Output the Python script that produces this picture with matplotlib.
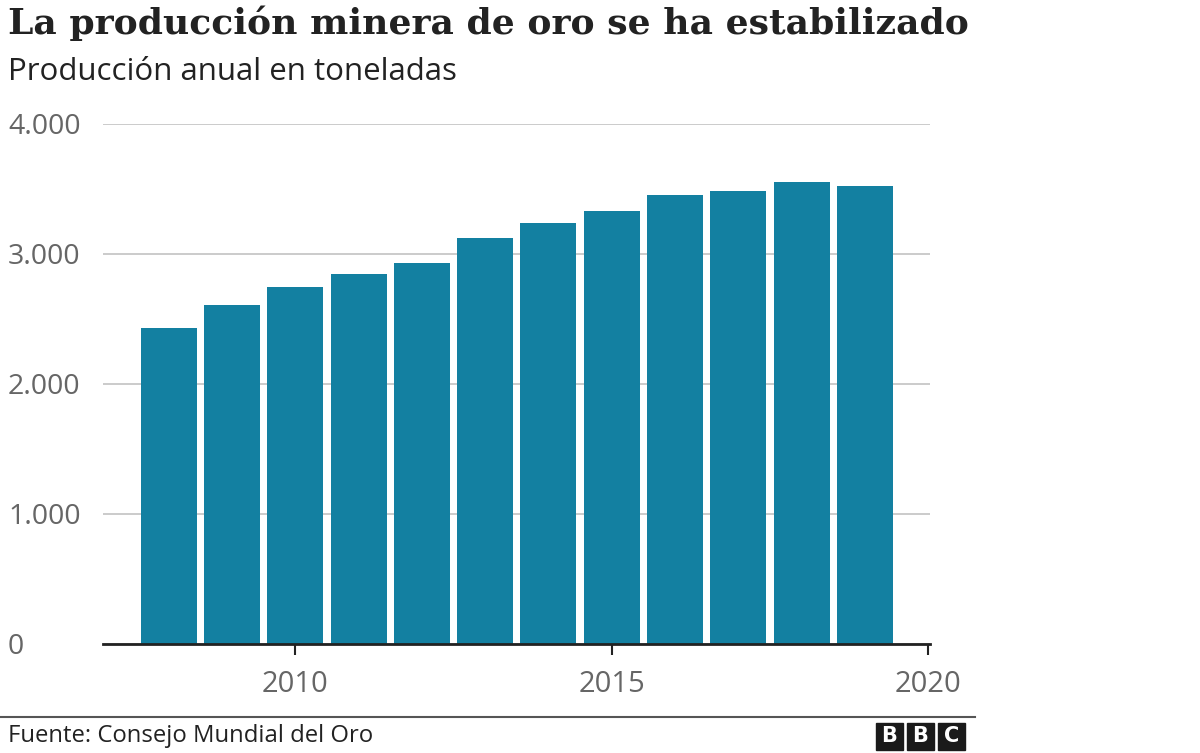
import matplotlib
matplotlib.use("Agg")
import matplotlib.pyplot as plt
from matplotlib.patches import Rectangle

years = [2008, 2009, 2010, 2011, 2012, 2013, 2014, 2015, 2016, 2017, 2018, 2019]
production = [2431, 2605, 2746, 2849, 2933, 3121, 3241, 3333, 3452, 3487, 3556, 3521]
y_ticks = [0, 1000, 2000, 3000, 4000]
y_labels = ["0", "1.000", "2.000", "3.000", "4.000"]
x_ticks = [2010, 2015, 2020]
x_labels = ["2010", "2015", "2020"]

title = "La producción minera de oro se ha estabilizado"
subtitle = "Producción anual en toneladas"
source = "Fuente: Consejo Mundial del Oro"

W, H = 1200, 753
fig = plt.figure(figsize=(W / 100, H / 100), dpi=100)
ax = fig.add_axes([103 / W, 1 - 644 / H, (930 - 103) / W, (644 - 124) / H])

ax.bar(years, production, width=0.885, color="#1380A1", zorder=2)
ax.set_xlim(2006.96, 2020.03)
ax.set_ylim(0, 4000)

ax.set_yticks(y_ticks)
ax.set_yticklabels(y_labels)
ax.set_xticks(x_ticks)
ax.set_xticklabels(x_labels)

for s in ["top", "right", "left"]:
    ax.spines[s].set_visible(False)
ax.spines["bottom"].set_color("#222222")
ax.spines["bottom"].set_linewidth(2)
ax.spines["bottom"].set_zorder(3)

ax.grid(axis="y", color="#cbcbcb", linewidth=1.4, zorder=0)
ax.grid(axis="x", visible=False)

ax.tick_params(axis="y", length=0, pad=95 * 0.72, labelsize=20.5, labelcolor="#666666")
for lab in ax.get_yticklabels():
    lab.set_horizontalalignment("left")
    lab.set_fontfamily("Open Sans")
ax.tick_params(axis="x", length=8, width=1.5, color="#222222", pad=11,
               labelsize=21, labelcolor="#666666")
for lab in ax.get_xticklabels():
    lab.set_fontfamily("Open Sans")

fig.text(8 / W, 1 - 23 / H, title, fontsize=26, fontweight="bold",
         family="DejaVu Serif", color="#222222", va="center", ha="left")
fig.text(8 / W, 1 - 72 / H, subtitle, fontsize=22.5, family="Open Sans",
         color="#222222", va="center", ha="left")

# footer line
fig.add_artist(plt.Line2D([0, 975 / W], [1 - 717 / H, 1 - 717 / H],
                          transform=fig.transFigure, color="#555555", linewidth=1.5))
fig.text(8 / W, 1 - 736 / H, source, fontsize=17.2, family="Open Sans",
         color="#222222", va="center", ha="left")

# BBC logo
for i, letter in enumerate("BBC"):
    x0 = 876 + i * 31
    fig.add_artist(Rectangle((x0 / W, 1 - 750 / H), 27 / W, 27 / H,
                             transform=fig.transFigure, color="#1a1a1a"))
    fig.text((x0 + 13.5) / W, 1 - 736.5 / H, letter, fontsize=15, fontweight="bold",
             family="DejaVu Sans", color="white", ha="center", va="center")

fig.savefig("out.png", dpi=100)
